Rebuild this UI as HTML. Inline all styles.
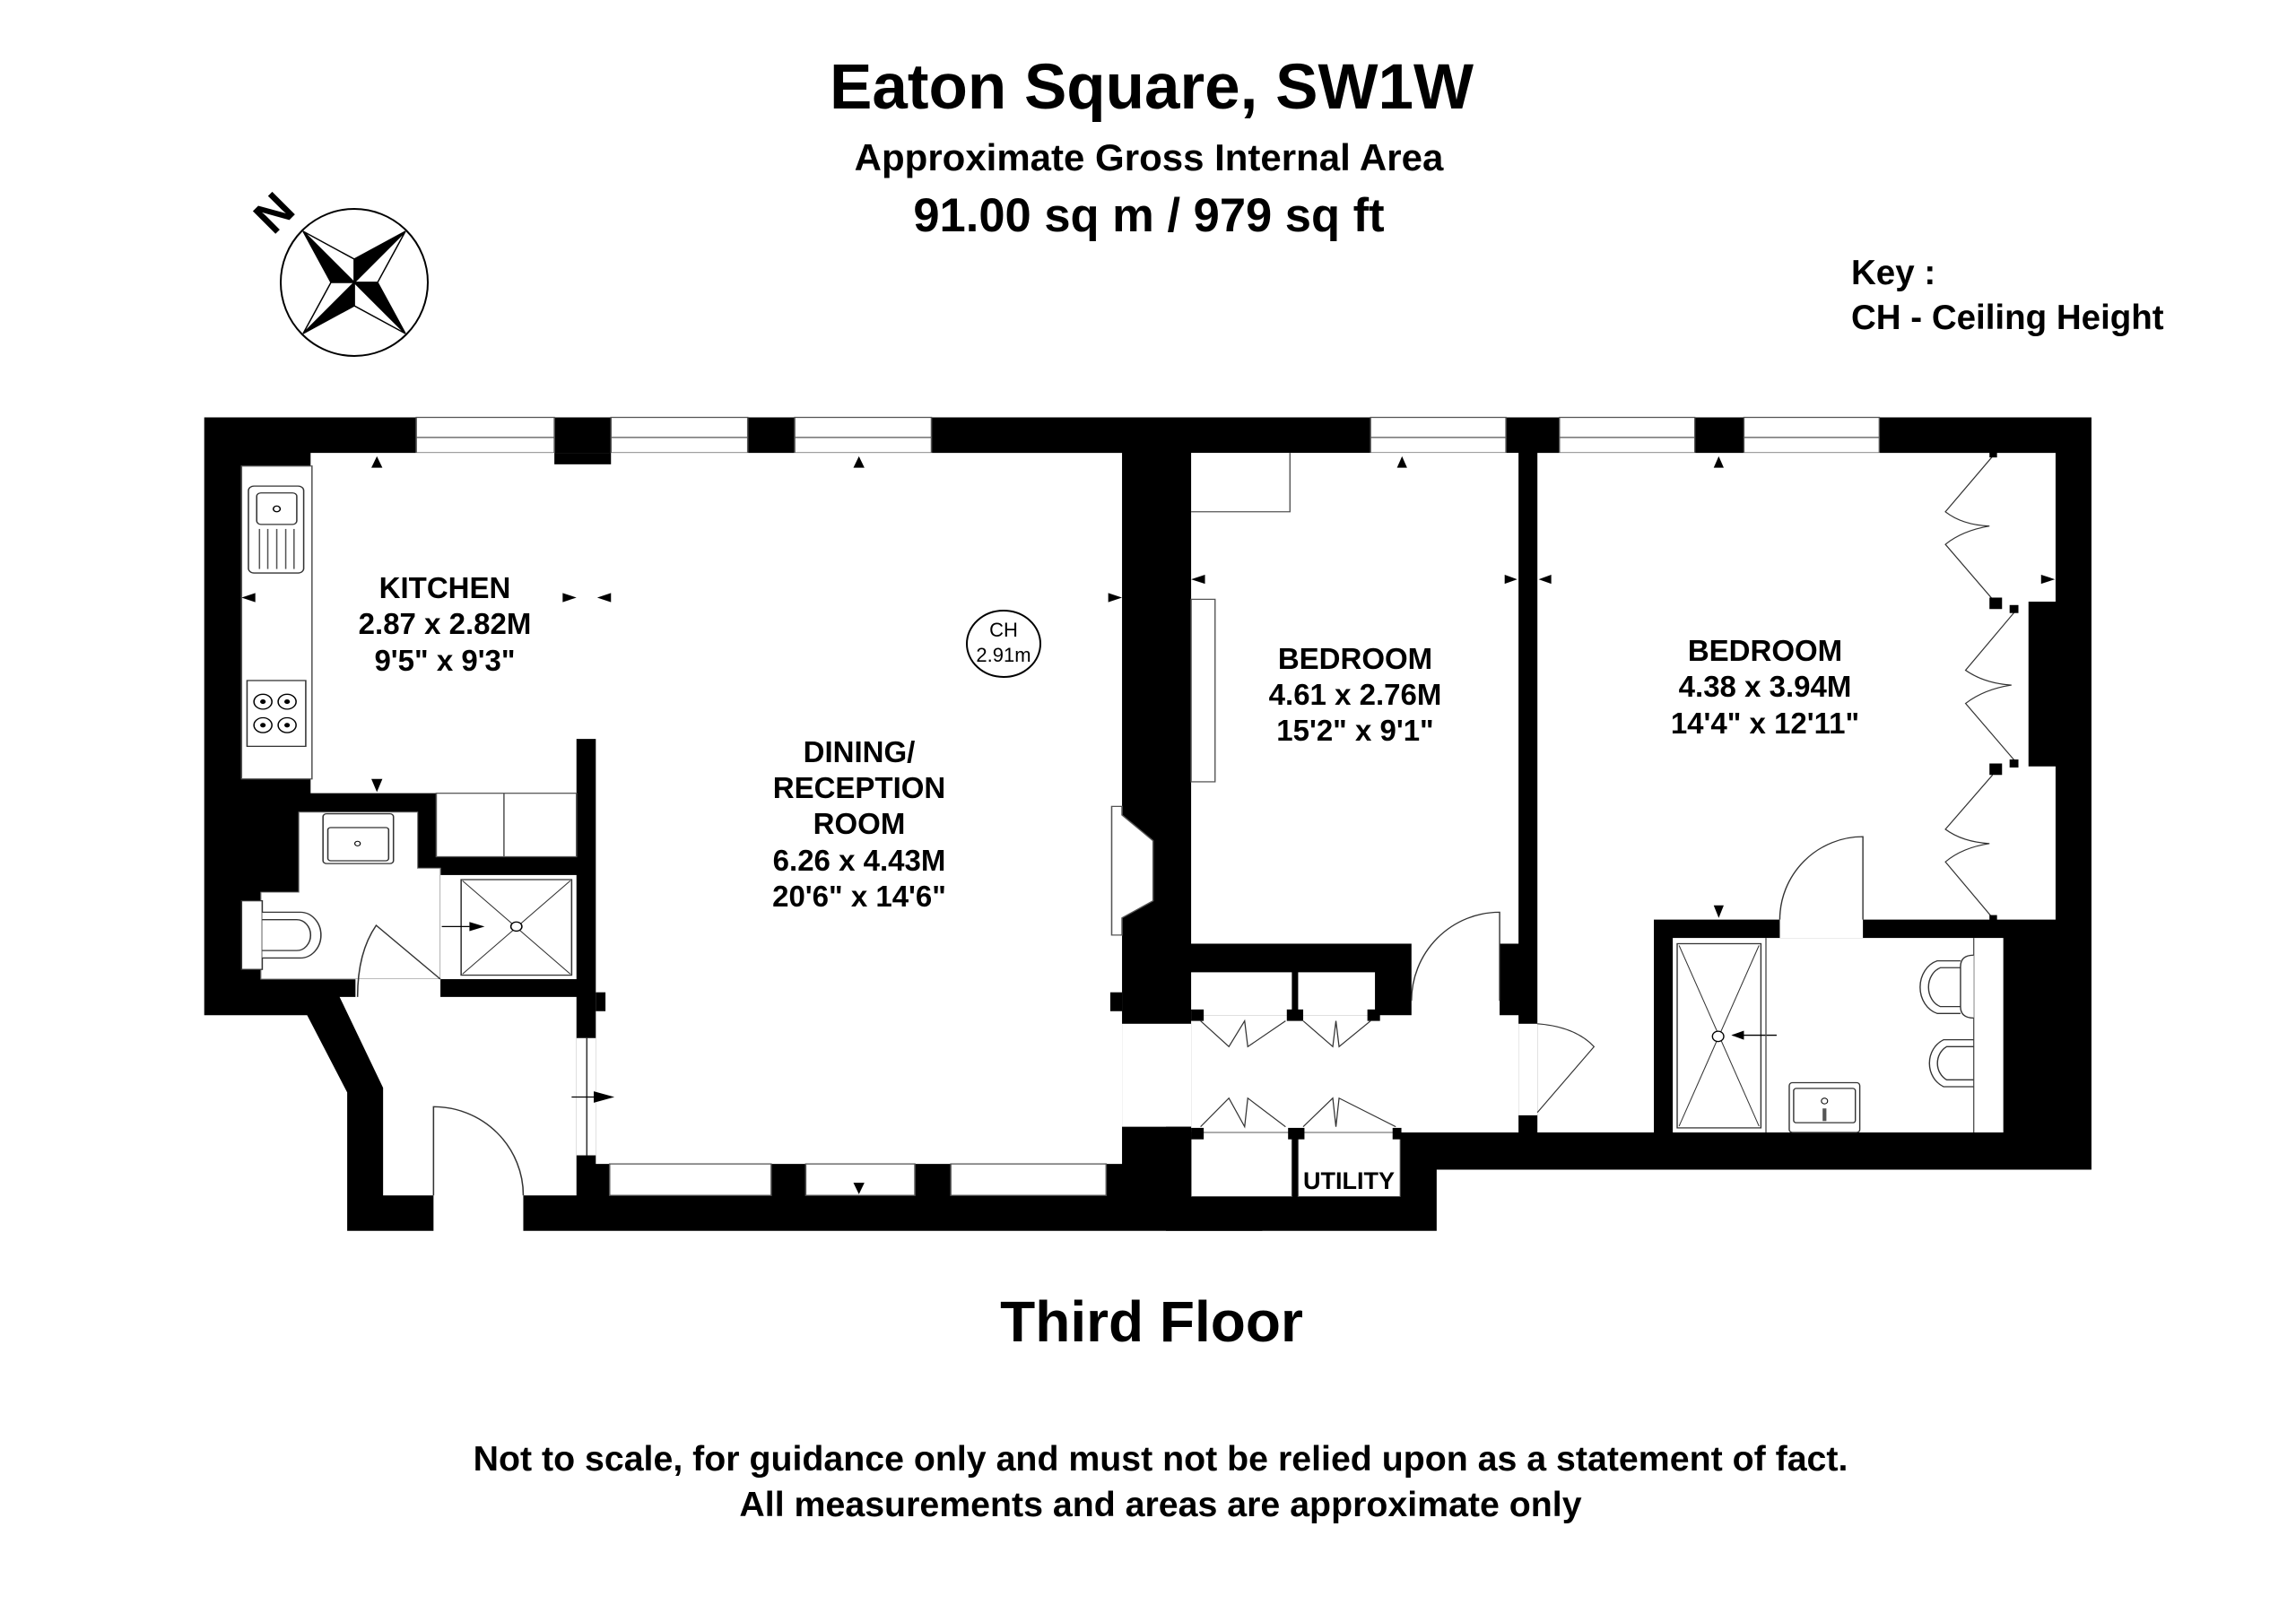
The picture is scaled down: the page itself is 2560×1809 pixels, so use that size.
<!DOCTYPE html>
<html><head><meta charset="utf-8"><style>
html,body{margin:0;padding:0;background:#fff}
svg{display:block}
text{font-family:"Liberation Sans",Arial,sans-serif;font-weight:bold;fill:#000}
</style></head><body>
<svg width="2560" height="1809" viewBox="0 0 2560 1809" xmlns="http://www.w3.org/2000/svg">
<rect width="2560" height="1809" fill="#fff"/>
<!-- titles -->
<text x="1284" y="121" font-size="71" text-anchor="middle">Eaton Square, SW1W</text>
<text x="1281" y="190" font-size="42" text-anchor="middle">Approximate Gross Internal Area</text>
<text x="1281" y="258" font-size="52.5" text-anchor="middle">91.00 sq m /  979 sq ft</text>
<text x="2064" y="317" font-size="38.5">Key :</text>
<text x="2064" y="367" font-size="38.5">CH - Ceiling Height</text>
<text x="1284" y="1496" font-size="64" text-anchor="middle">Third Floor</text>
<text x="1294" y="1640" font-size="39.3" text-anchor="middle">Not to scale, for guidance only and must not be relied upon as a statement of fact.</text>
<text x="1294" y="1691" font-size="39.3" text-anchor="middle">All measurements and areas are approximate only</text>

<!-- compass -->
<g transform="translate(395,315)">
<circle r="82" fill="none" stroke="#000" stroke-width="2"/>
<g stroke="#000" stroke-width="1.5" fill="#fff">
<polygon points="-57,-57 0,-26 0,0"/><polygon points="-57,-57 -26,0 0,0" fill="#000"/>
<polygon points="57,-57 26,0 0,0"/><polygon points="57,-57 0,-26 0,0" fill="#000"/>
<polygon points="57,57 0,26 0,0"/><polygon points="57,57 26,0 0,0" fill="#000"/>
<polygon points="-57,57 -26,0 0,0"/><polygon points="-57,57 0,26 0,0" fill="#000"/>
</g>
</g>
<text x="0" y="0" font-size="52" transform="translate(318,250) rotate(-45)" text-anchor="middle">N</text>

<!-- GROUP 1 (left part) -->
<g transform="translate(200,440) scale(0.77,0.638)" stroke-linejoin="miter">
<polygon points="36,40 1568,40 1568,1462 243,1462 243,1220 185,1085 36,1085" fill="#000"/>
<g fill="#fff" stroke="#555" stroke-width="2">
<rect x="343" y="40" width="200" height="62"/><rect x="625" y="40" width="198" height="62"/><rect x="891" y="40" width="198" height="62"/>
</g>
<g stroke="#555" stroke-width="2"><line x1="343" y1="75" x2="543" y2="75"/><line x1="625" y1="75" x2="823" y2="75"/><line x1="891" y1="75" x2="1089" y2="75"/></g>
<polygon points="190,102 1365,102 1365,1345 603,1345 603,602 575,602 575,697 190,697" fill="#fff"/>
<rect x="543" y="102" width="82" height="20" fill="#000"/>
<rect x="90" y="125" width="102" height="547" fill="#fff" stroke="#555" stroke-width="2"/>
<rect x="100" y="160" width="80" height="152" rx="8" fill="#fff" stroke="#333" stroke-width="2"/>
<rect x="112" y="172" width="58" height="55" rx="6" fill="none" stroke="#333" stroke-width="2"/>
<circle cx="141" cy="200" r="5" fill="none" stroke="#000" stroke-width="2"/>
<g stroke="#555" stroke-width="2"><line x1="116" y1="235" x2="116" y2="305"/><line x1="128" y1="235" x2="128" y2="305"/><line x1="141" y1="235" x2="141" y2="305"/><line x1="154" y1="235" x2="154" y2="305"/><line x1="166" y1="235" x2="166" y2="305"/></g>
<rect x="98" y="500" width="85" height="115" fill="#fff" stroke="#333" stroke-width="2"/>
<g fill="none" stroke="#000" stroke-width="2"><circle cx="121" cy="537" r="13"/><circle cx="156" cy="537" r="13"/><circle cx="121" cy="578" r="13"/><circle cx="156" cy="578" r="13"/></g>
<g fill="#000"><circle cx="121" cy="537" r="4"/><circle cx="156" cy="537" r="4"/><circle cx="121" cy="578" r="4"/><circle cx="156" cy="578" r="4"/></g>
<rect x="372" y="697" width="203" height="111" fill="#fff" stroke="#555" stroke-width="2"/>
<line x1="470" y1="697" x2="470" y2="808" stroke="#555" stroke-width="2"/>
<polygon points="173,730 345,730 345,828 378,828 378,1022 118,1022 118,870 173,870" fill="#fff" stroke="#777" stroke-width="1.5"/>
<rect x="208" y="733" width="102" height="87" rx="5" fill="#fff" stroke="#333" stroke-width="2"/>
<rect x="215" y="757" width="88" height="58" rx="4" fill="none" stroke="#333" stroke-width="2"/>
<circle cx="258" cy="785" r="4" fill="none" stroke="#000" stroke-width="1.5"/>
<rect x="90" y="885" width="30" height="120" fill="#fff" stroke="#333" stroke-width="2"/>
<path d="M120,905 L175,905 A30,40 0 0 1 175,985 L120,985" fill="#fff" stroke="#333" stroke-width="2"/>
<path d="M120,918 L170,918 A20,27 0 0 1 170,972 L120,972" fill="none" stroke="#333" stroke-width="2"/>
<rect x="378" y="840" width="197" height="182" fill="#fff"/>
<rect x="408" y="848" width="160" height="167" fill="none" stroke="#333" stroke-width="2"/>
<g stroke="#333" stroke-width="1.5"><line x1="410" y1="850" x2="566" y2="1013"/><line x1="566" y1="850" x2="410" y2="1013"/></g>
<circle cx="488" cy="930" r="8" fill="#fff" stroke="#000" stroke-width="2"/>
<line x1="380" y1="930" x2="420" y2="930" stroke="#000" stroke-width="2"/>
<polygon points="420,922 442,930 420,938" fill="#000"/>
<polygon points="232,1053 255,1053 255,1022 378,1022 378,1053 575,1053 575,1400 295,1400 295,1212" fill="#fff"/>
<path d="M378,1022 L285,928 Q258,975 258,1053" fill="none" stroke="#333" stroke-width="2"/>
<rect x="575" y="1125" width="28" height="205" fill="#fff"/>
<line x1="590" y1="1125" x2="590" y2="1330" stroke="#333" stroke-width="2"/>
<rect x="603" y="1045" width="14" height="33" fill="#000"/>
<line x1="568" y1="1228" x2="600" y2="1228" stroke="#000" stroke-width="2"/>
<polygon points="600,1218 630,1228 600,1238" fill="#000"/>
<rect x="368" y="1398" width="130" height="66" fill="#fff"/>
<path d="M368,1400 L368,1245 A130,155 0 0 1 498,1400" fill="none" stroke="#333" stroke-width="2"/>
<g fill="#fff" stroke="#555" stroke-width="2">
<rect x="623" y="1345" width="234" height="55"/><rect x="907" y="1345" width="158" height="55"/><rect x="1117" y="1345" width="225" height="55"/>
</g>
<polygon points="1350,720 1365,720 1365,735 1410,780 1410,885 1365,915 1365,945 1350,945" fill="#fff" stroke="#555" stroke-width="2"/>
<rect x="1348" y="1045" width="17" height="33" fill="#000"/>
<rect x="1365" y="1100" width="203" height="180" fill="#fff"/>
<g fill="#000">
<polygon points="278,128 286,108 294,128"/><polygon points="976,128 984,108 992,128"/>
<polygon points="90,355 110,347 110,363"/><polygon points="555,347 575,355 555,363"/><polygon points="625,347 605,355 625,363"/>
<polygon points="1345,347 1365,355 1345,363"/><polygon points="278,672 286,695 294,672"/><polygon points="976,1378 984,1398 992,1378"/>
</g>
</g>

<!-- GROUP 2 (right part) -->
<g transform="translate(1300,440) scale(0.702,0.638)">
<polygon points="40,40 1470,40 1470,1355 430,1355 430,1462 40,1462" fill="#000"/>
<g fill="#fff" stroke="#555" stroke-width="2">
<rect x="325" y="40" width="215" height="62"/><rect x="625" y="40" width="215" height="62"/><rect x="918" y="40" width="215" height="62"/>
</g>
<g stroke="#555" stroke-width="2"><line x1="325" y1="75" x2="540" y2="75"/><line x1="625" y1="75" x2="840" y2="75"/><line x1="918" y1="75" x2="1133" y2="75"/></g>
<rect x="40" y="102" width="520" height="858" fill="#fff"/>
<polyline points="40,205 197,205 197,102" fill="none" stroke="#555" stroke-width="2"/>
<rect x="40" y="358" width="38" height="319" fill="#fff" stroke="#555" stroke-width="2"/>
<rect x="390" y="955" width="140" height="135" fill="#fff"/>
<rect x="530" y="1060" width="30" height="40" fill="#000"/>
<path d="M530,1060 L530,905 A140,155 0 0 0 390,1060" fill="none" stroke="#333" stroke-width="2"/>
<polygon points="590,102 1413,102 1413,362 1370,362 1370,650 1413,650 1413,918 1107,918 1107,950 975,950 975,918 775,918 775,1290 590,1290" fill="#fff"/>
<g fill="none" stroke="#333" stroke-width="1.8">
<path d="M1313,108 L1238,205 Q1265,228 1308,230 Q1265,238 1238,262 L1313,358"/>
<path d="M1348,380 L1270,482 Q1300,505 1343,508 Q1300,515 1270,540 L1348,640"/>
<path d="M1313,665 L1238,760 Q1265,782 1308,785 Q1265,792 1238,817 L1313,915"/>
</g>
<g fill="#000"><rect x="1308" y="355" width="20" height="20"/><rect x="1340" y="368" width="14" height="14"/><rect x="1340" y="638" width="14" height="14"/><rect x="1308" y="645" width="20" height="20"/>
<rect x="1308" y="100" width="12" height="10"/><rect x="1308" y="910" width="12" height="10"/></g>
<rect x="805" y="950" width="525" height="340" fill="#fff"/>
<path d="M975,918 A132,145 0 0 1 1107,773 L1107,918" fill="none" stroke="#333" stroke-width="2"/>
<rect x="812" y="960" width="133" height="322" fill="none" stroke="#333" stroke-width="2"/>
<g stroke="#333" stroke-width="1.5"><line x1="815" y1="963" x2="942" y2="1279"/><line x1="942" y1="963" x2="815" y2="1279"/></g>
<circle cx="877" cy="1122" r="9" fill="#fff" stroke="#000" stroke-width="2"/>
<line x1="900" y1="1120" x2="970" y2="1120" stroke="#000" stroke-width="2"/>
<polygon points="918,1112 898,1120 918,1128" fill="#000"/>
<line x1="953" y1="950" x2="953" y2="1290" stroke="#555" stroke-width="2"/>
<line x1="1283" y1="950" x2="1283" y2="1290" stroke="#555" stroke-width="2"/>
<path d="M1283,980 Q1262,980 1262,1000 L1262,1070 Q1262,1090 1283,1090" fill="#fff" stroke="#333" stroke-width="2"/>
<path d="M1262,990 L1225,990 A38,48 0 0 0 1225,1082 L1262,1082" fill="none" stroke="#333" stroke-width="2"/>
<path d="M1262,1002 L1230,1002 A28,36 0 0 0 1230,1070 L1262,1070" fill="none" stroke="#333" stroke-width="2"/>
<path d="M1283,1128 L1235,1128 A38,45 0 0 0 1235,1210 L1283,1210" fill="none" stroke="#333" stroke-width="2"/>
<path d="M1283,1140 L1240,1140 A28,33 0 0 0 1240,1198 L1283,1198" fill="none" stroke="#333" stroke-width="2"/>
<rect x="990" y="1203" width="112" height="87" rx="5" fill="#fff" stroke="#333" stroke-width="2"/>
<rect x="997" y="1213" width="98" height="60" rx="4" fill="none" stroke="#333" stroke-width="2"/>
<circle cx="1046" cy="1235" r="5" fill="none" stroke="#000" stroke-width="1.5"/>
<rect x="1043" y="1248" width="6" height="22" fill="#555"/>
<rect x="40" y="1085" width="520" height="205" fill="#fff"/>
<rect x="560" y="1100" width="30" height="160" fill="#fff"/>
<rect x="40" y="1010" width="160" height="75" fill="#fff"/>
<rect x="210" y="1010" width="122" height="75" fill="#fff"/>
<rect x="40" y="1290" width="160" height="112" fill="#fff" stroke="#555" stroke-width="1.5"/>
<rect x="210" y="1290" width="162" height="112" fill="#fff" stroke="#555" stroke-width="1.5"/>
<g fill="#000"><rect x="40" y="1075" width="20" height="20"/><rect x="192" y="1075" width="26" height="20"/><rect x="320" y="1075" width="20" height="20"/>
<rect x="40" y="1282" width="20" height="20"/><rect x="194" y="1282" width="26" height="20"/><rect x="360" y="1282" width="14" height="20"/>
<rect x="0" y="1280" width="40" height="182"/></g>
<g fill="none" stroke="#333" stroke-width="1.8">
<path d="M55,1095 L100,1140 L125,1095 L130,1140 L190,1095"/>
<path d="M218,1095 L265,1140 L270,1095 L275,1140 L325,1095"/>
<path d="M55,1280 L100,1230 L125,1280 L130,1230 L190,1280"/>
<path d="M218,1280 L265,1230 L270,1280 L275,1230 L365,1280"/>
<path d="M590,1100 Q650,1105 680,1140 L590,1255"/>
</g>
<g fill="#000">
<polygon points="365,1030 375,1055 385,1030"/><polygon points="367,128 375,108 383,128"/><polygon points="870,128 878,108 886,128"/>
<polygon points="40,323 62,315 62,331"/><polygon points="538,315 558,323 538,331"/><polygon points="612,315 592,323 612,331"/>
<polygon points="1390,315 1412,323 1390,331"/><polygon points="870,893 878,915 886,893"/>
</g>
</g>

<!-- room labels -->
<g font-size="33" text-anchor="middle">
<text x="496" y="667">KITCHEN</text>
<text x="496" y="707">2.87 x 2.82M</text>
<text x="496" y="748">9'5" x 9'3"</text>
<text x="958" y="850">DINING/</text>
<text x="958" y="890">RECEPTION</text>
<text x="958" y="930">ROOM</text>
<text x="958" y="971">6.26 x 4.43M</text>
<text x="958" y="1011">20'6" x 14'6"</text>
<text x="1511" y="746">BEDROOM</text>
<text x="1511" y="786">4.61 x 2.76M</text>
<text x="1511" y="826">15'2" x 9'1"</text>
<text x="1968" y="737">BEDROOM</text>
<text x="1968" y="777">4.38 x 3.94M</text>
<text x="1968" y="818">14'4" x 12'11"</text>
<text x="1504" y="1326" font-size="27">UTILITY</text>
</g>
<ellipse cx="1119" cy="718" rx="41" ry="37" fill="none" stroke="#000" stroke-width="2"/>
<text x="1119" y="710" font-size="22" text-anchor="middle" style="font-weight:normal">CH</text>
<text x="1119" y="738" font-size="22" text-anchor="middle" style="font-weight:normal">2.91m</text>
</svg>
</body></html>
